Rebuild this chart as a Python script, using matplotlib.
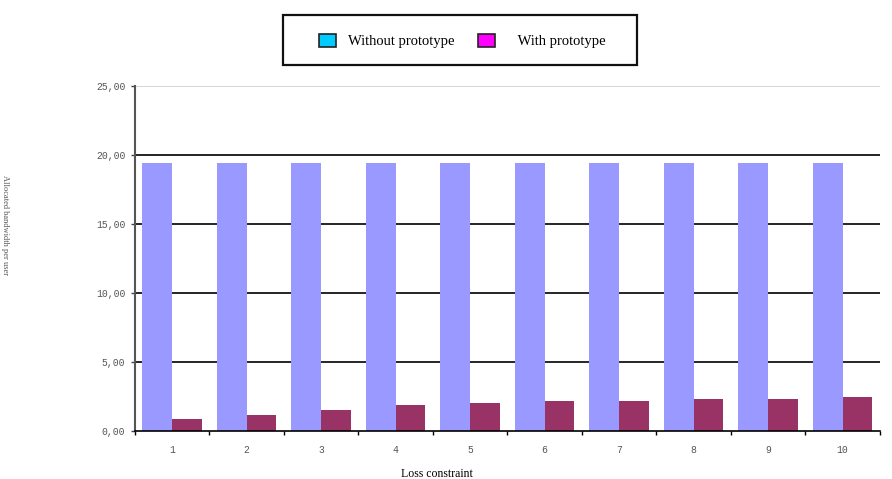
import matplotlib.pyplot as plt
import matplotlib.patches as mpatches
import numpy as np

# values
categories = ['1', '2', '3', '4', '5', '6', '7', '8', '9', '10']
without_proto = [19.4, 19.4, 19.4, 19.4, 19.4, 19.4, 19.4, 19.4, 19.4, 19.4]
with_proto = [0.85, 1.18, 1.52, 1.86, 2.0, 2.15, 2.15, 2.3, 2.3, 2.49]
y_ticks = [0, 5, 10, 15, 20, 25]
y_ticklabels = ['0,00', '5,00', '10,00', '15,00', '20,00', '25,00']

fig = plt.figure(figsize=(8.92, 4.79), dpi=100)
ax = fig.add_axes([0.1513, 0.1002, 0.835, 0.7203])

x = np.arange(len(categories))
w = 0.4
ax.bar(x - w / 2, without_proto, w, color='#9999FF', zorder=3)
ax.bar(x + w / 2, with_proto, w, color='#993366', zorder=3)

ax.set_xlim(-0.5, len(categories) - 0.5)
ax.set_ylim(0, 25)

# gridlines: black for inner values, light gray at the top
for v in y_ticks[1:-1]:
    ax.axhline(v, color='black', lw=1.2, zorder=1)
ax.axhline(25, color='#d0d0d0', lw=1.2, zorder=1)

ax.set_yticks(y_ticks)
ax.set_yticklabels(y_ticklabels, family='Liberation Mono', fontsize=7, color='#555555')
ax.tick_params(axis='y', length=3, width=1, color='#444444', pad=4)

ax.set_xticks(x)
ax.set_xticklabels(categories, family='Liberation Mono', fontsize=7, color='#555555')
ax.set_xticks(np.arange(len(categories) + 1) - 0.5, minor=True)
ax.tick_params(axis='x', which='major', length=0, pad=10)
ax.tick_params(axis='x', which='minor', length=3, width=1, color='black')

for s in ['top', 'right']:
    ax.spines[s].set_visible(False)
ax.spines['left'].set_color('#555555')
ax.spines['left'].set_linewidth(1.5)
ax.spines['bottom'].set_color('black')
ax.spines['bottom'].set_linewidth(1.2)
ax.spines['bottom'].set_zorder(4)

fig.text(437 / 892, 1 - 474 / 479, 'Loss constraint', family='Liberation Serif',
         fontsize=8.5, ha='center', va='center')
fig.text(5 / 892, 0.53, 'Allocated bandwidth per user', family='Liberation Serif',
         fontsize=6, rotation=270, ha='center', va='center', color='#555555')

# legend frame drawn as a figure rectangle
fig.patches.append(mpatches.Rectangle((283 / 892, 1 - 65 / 479), 354 / 892, 50 / 479,
                                      transform=fig.transFigure, facecolor='white',
                                      edgecolor='#111111', lw=1.6))
handles = [mpatches.Patch(facecolor='#00CCFF', edgecolor='#222222', lw=1.2),
           mpatches.Patch(facecolor='#FF00FF', edgecolor='#222222', lw=1.2)]
fig.legend(handles, ['Without prototype', '   With prototype'], ncol=2,
           loc='center', bbox_to_anchor=(462 / 892, 1 - 41 / 479),
           prop={'family': 'Liberation Serif', 'size': 10.5},
           frameon=False, handlelength=1.2, handleheight=1.0,
           columnspacing=1.6, handletextpad=0.8)

fig.savefig('out.png', dpi=100)
